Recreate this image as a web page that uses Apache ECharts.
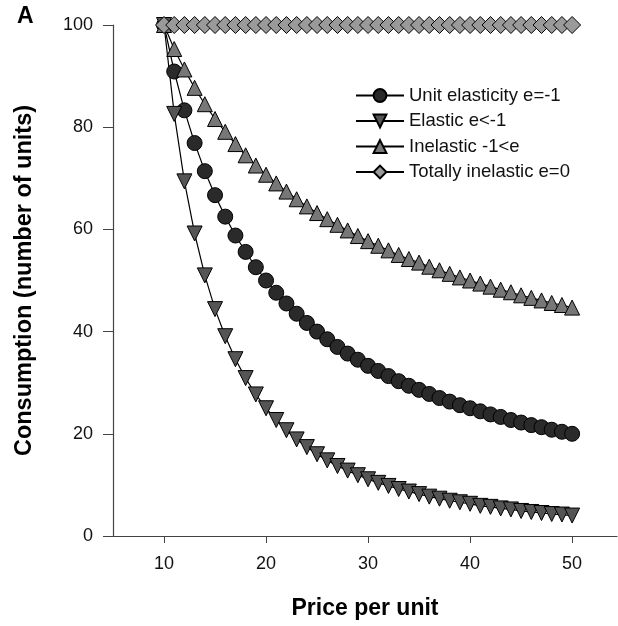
<!DOCTYPE html>
<html><head><meta charset="utf-8">
<script src="https://cdn.jsdelivr.net/npm/echarts@6/dist/echarts.min.js"></script>
<style>html,body{margin:0;padding:0;background:#fff}#c{width:618px;height:626px}</style>
</head><body><div id="c"></div>
<script>
const prices = [10,11,12,13,14,15,16,17,18,19,20,21,22,23,24,25,26,27,28,29,30,31,32,33,34,35,36,37,38,39,40,41,42,43,44,45,46,47,48,49,50];
const unitElastic = [100,90.9,83.3,76.9,71.4,66.7,62.5,58.8,55.6,52.6,50,47.6,45.5,43.5,41.7,40,38.5,37,35.7,34.5,33.3,32.3,31.3,30.3,29.4,28.6,27.8,27,26.3,25.6,25,24.4,23.8,23.3,22.7,22.2,21.7,21.3,20.8,20.4,20];
const elastic = [100,82.6,69.4,59.2,51,44.4,39.1,34.6,30.9,27.7,25,22.7,20.7,18.9,17.4,16,14.8,13.7,12.8,11.9,11.1,10.4,9.8,9.2,8.7,8.2,7.7,7.3,6.9,6.6,6.3,5.9,5.7,5.4,5.2,4.9,4.7,4.5,4.3,4.2,4.0];
const inelastic = [100,95.3,91.3,87.7,84.5,81.6,79.1,76.7,74.5,72.5,70.7,69,67.4,65.9,64.5,63.2,62,60.9,59.8,58.7,57.7,56.8,55.9,55,54.2,53.5,52.7,52,51.3,50.6,50,49.4,48.8,48.2,47.7,47.1,46.6,46.1,45.6,45.2,44.7];
const totallyInelastic = [100,100,100,100,100,100,100,100,100,100,100,100,100,100,100,100,100,100,100,100,100,100,100,100,100,100,100,100,100,100,100,100,100,100,100,100,100,100,100,100,100];
const xTicks = [10,20,30,40,50];
const seriesNames = ['Unit elasticity e=-1','Elastic e<-1','Inelastic -1<e','Totally inelastic e=0'];
const xAxisTitle = 'Price per unit';
const yAxisTitle = 'Consumption (number of units)';
const panelLabel = 'A';

const pair = arr => prices.map((p,i)=>[p,arr[i]]);
const FONT = '"Liberation Sans", Arial, Helvetica, sans-serif';
const mk = (name, data, symbol, size, fill, rot) => ({
  name, type:'line', data: pair(data), symbol, symbolSize: size, symbolRotate: rot||0,
  showAllSymbol:true, animation:false,
  lineStyle:{color:'#000', width:1.2},
  itemStyle:{color:fill, borderColor:'#000', borderWidth:1}
});
const chart = echarts.init(document.getElementById('c'), null, {renderer:'canvas'});
chart.setOption({
  animation:false,
  textStyle:{fontFamily:FONT},
  graphic:[{type:'text', left:17, top:5, style:{text:panelLabel, font:'bold 23px '+FONT, fill:'#000'}}],
  grid:{left:113, right:1, top:25, bottom:90, containLabel:false},
  legend:{
    orient:'vertical', left:350, top:81, itemWidth:48, itemHeight:16, itemGap:6.5,
    textStyle:{fontSize:18.5, color:'#111', fontFamily:FONT},
    data: seriesNames
  },
  xAxis:{
    type:'value', min:5, max:54.4,
    axisLine:{lineStyle:{color:'#444', width:1.2}},
    axisTick:{length:7, lineStyle:{color:'#444'}, customValues:xTicks},
    axisLabel:{customValues:xTicks, fontSize:18, color:'#111', margin:19, fontFamily:FONT},
    splitLine:{show:false},
    name:xAxisTitle, nameLocation:'middle', nameGap:61,
    nameTextStyle:{fontSize:23, fontWeight:'bold', color:'#000', fontFamily:FONT}
  },
  yAxis:{
    type:'value', min:0, max:100, interval:20,
    axisLine:{show:true, lineStyle:{color:'#444', width:1.2}},
    axisTick:{show:true, length:10, lineStyle:{color:'#444'}},
    axisLabel:{fontSize:18, color:'#111', margin:20, fontFamily:FONT},
    splitLine:{show:false},
    name:yAxisTitle, nameLocation:'middle', nameGap:76,
    nameTextStyle:{fontSize:23.5, fontWeight:'bold', color:'#000', fontFamily:FONT}
  },
  series:[
    mk(seriesNames[0], unitElastic, 'circle', 15, '#2a2a2a'),
    mk(seriesNames[1], elastic, 'triangle', 15, '#555555', 180),
    mk(seriesNames[2], inelastic, 'triangle', 15, '#777777'),
    mk(seriesNames[3], totallyInelastic, 'diamond', 17, '#9a9a9a')
  ]
});
</script></body></html>
